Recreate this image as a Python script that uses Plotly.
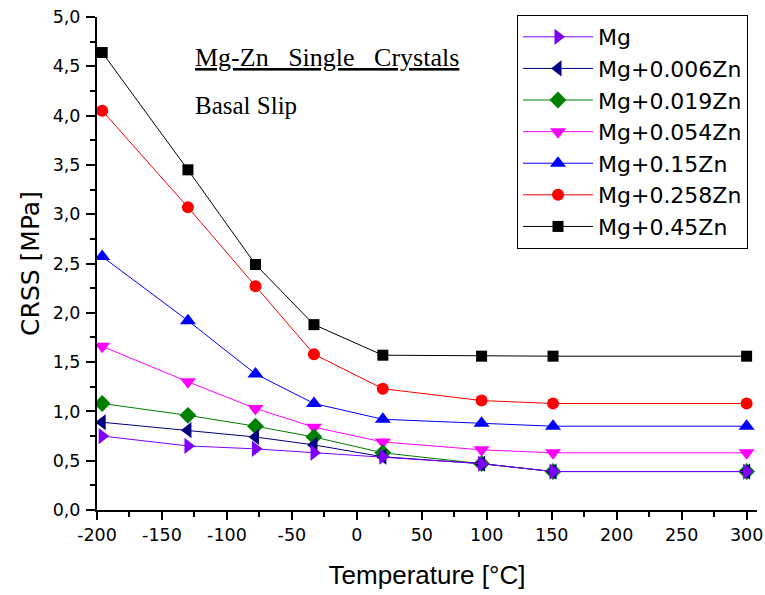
import plotly.graph_objects as go

# Test temperatures (°C)
temperature = [-196, -130, -78, -33, 20, 96, 151, 300]

# Critical resolved shear stress (MPa) per alloy
crss_mg = [0.75, 0.65, 0.62, 0.58, 0.54, 0.47, 0.39, 0.39]
crss_006 = [0.89, 0.81, 0.74, 0.66, 0.54, 0.47, 0.39, 0.39]
crss_019 = [1.08, 0.96, 0.85, 0.74, 0.58, 0.47, 0.39, 0.39]
crss_054 = [1.66, 1.30, 1.03, 0.84, 0.69, 0.61, 0.58, 0.58]
crss_15 = [2.57, 1.92, 1.38, 1.08, 0.92, 0.88, 0.85, 0.85]
crss_258 = [4.05, 3.07, 2.27, 1.58, 1.23, 1.11, 1.08, 1.08]
crss_45 = [4.64, 3.45, 2.49, 1.88, 1.57, 1.56, 1.56, 1.56]

# Axis tick positions and labels
x_ticks = [-200, -150, -100, -50, 0, 50, 100, 150, 200, 250, 300]
x_labels = ["-200", "-150", "-100", "-50", "0", "50", "100", "150", "200", "250", "300"]
y_ticks = [0.0, 0.5, 1.0, 1.5, 2.0, 2.5, 3.0, 3.5, 4.0, 4.5, 5.0]
y_labels = ["0,0", "0,5", "1,0", "1,5", "2,0", "2,5", "3,0", "3,5", "4,0", "4,5", "5,0"]

series = [
    ("Mg", crss_mg, "#7F00FF", "triangle-right", 14),
    ("Mg+0.006Zn", crss_006, "#000080", "triangle-left", 14),
    ("Mg+0.019Zn", crss_019, "#008000", "diamond", 13),
    ("Mg+0.054Zn", crss_054, "#FF00FF", "triangle-down", 14),
    ("Mg+0.15Zn", crss_15, "#0000FF", "triangle-up", 14),
    ("Mg+0.258Zn", crss_258, "#FF0000", "circle", 12),
    ("Mg+0.45Zn", crss_45, "#000000", "square", 11),
]

fig = go.Figure()
# draw highest-Zn first so pure Mg sits on top where curves meet
for name, vals, color, sym, size in reversed(series):
    fig.add_trace(go.Scatter(
        x=temperature, y=vals, name=name, mode="lines+markers",
        line=dict(color=color, width=1),
        marker=dict(symbol=sym, size=size, color=color, line=dict(width=0)),
    ))

wide = "DejaVu Sans, Verdana, sans-serif"
sans = "Liberation Sans, Arial, sans-serif"
serif = "Liberation Serif, Times New Roman, serif"
tick_font = dict(family=wide, size=17.5, color="black")

# plot-area size in pixels, used to place the text labels
L, R, T, B = 97, 8, 17, 85
pw, ph = 765 - L - R, 595 - T - B
nb = "\u00a0"

fig.update_layout(
    width=765, height=595,
    margin=dict(l=L, r=R, t=T, b=B),
    paper_bgcolor="white", plot_bgcolor="white",
    showlegend=True,
    legend=dict(
        traceorder="reversed",
        x=(517 - L) / pw, y=1.004, xanchor="left", yanchor="top",
        bordercolor="black", borderwidth=1, bgcolor="white",
        font=dict(family=wide, size=22, color="black"),
        itemwidth=70,
    ),
    xaxis=dict(
        range=[-200, 308], tickmode="array", tickvals=x_ticks, ticktext=x_labels,
        ticks="outside", ticklen=8, tickwidth=1.5, tickcolor="black",
        minor=dict(ticks="outside", ticklen=5, dtick=25, tick0=-200, tickcolor="black", tickwidth=1.5),
        showline=True, linecolor="black", linewidth=2, showgrid=False, zeroline=False,
        automargin=False, tickfont=tick_font,
        title=dict(text="Temperature [°C]", font=dict(family=sans, size=26, color="black"), standoff=22),
    ),
    yaxis=dict(
        range=[0, 5.0], tickmode="array", tickvals=y_ticks, ticktext=y_labels,
        ticks="outside", ticklen=9, tickwidth=1.5, tickcolor="black",
        minor=dict(ticks="outside", ticklen=5, dtick=0.25, tick0=0, tickcolor="black", tickwidth=1.5),
        showline=True, linecolor="black", linewidth=2, showgrid=False, zeroline=False,
        automargin=False, tickfont=tick_font, ticklabelstandoff=2,
        title=dict(text="CRSS [MPa]", font=dict(family=wide, size=25, color="black"), standoff=6),
    ),
    annotations=[
        dict(text="<u>Mg-Zn" + nb * 3 + "Single" + nb * 3 + "Crystals</u>",
             x=(193 - L) / pw, y=(510 - 58) / ph,
             xref="paper", yref="paper", showarrow=False, xanchor="left", yanchor="middle",
             font=dict(family=serif, size=26, color="black")),
        dict(text="Basal Slip", x=(193 - L) / pw, y=(510 - 105) / ph,
             xref="paper", yref="paper", showarrow=False, xanchor="left", yanchor="middle",
             font=dict(family=serif, size=25, color="black")),
    ],
)

fig.write_html("out.html")
